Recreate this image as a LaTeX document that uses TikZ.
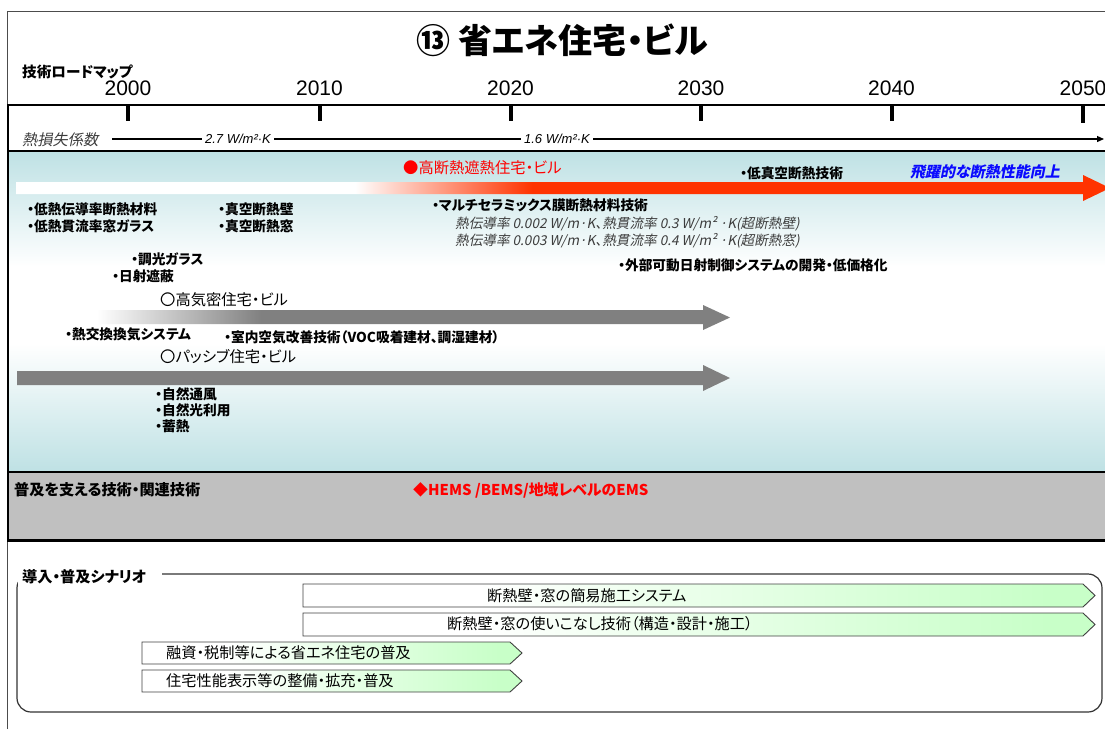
\documentclass[tikz,border=0pt]{standalone}
\usepackage{fontspec}
\newfontfamily\jp{Noto Sans CJK JP}[RawFeature=+palt]
\newfontfamily\jpit{Noto Sans CJK JP}[RawFeature=+palt,FakeSlant=0.2]
\newfontfamily\lat{Liberation Sans}
\usetikzlibrary{arrows.meta}
\definecolor{pblue}{RGB}{190,225,228}
\definecolor{pgrey}{RGB}{192,192,192}
\definecolor{agrey}{RGB}{128,128,128}
\definecolor{ared}{RGB}{255,51,0}
\definecolor{jred}{RGB}{255,0,0}
\definecolor{jblue}{RGB}{10,10,255}
\definecolor{pgreen}{RGB}{200,255,200}
\definecolor{itgrey}{RGB}{60,60,60}
\pgfdeclareverticalshading{bluefade}{100bp}{color(0bp)=(pblue); color(25bp)=(pblue); color(45bp)=(white); color(57bp)=(white); color(75bp)=(pblue); color(100bp)=(pblue)}
\pgfdeclarehorizontalshading{redfade}{100bp}{color(0bp)=(white); color(40.5bp)=(white); color(48.6bp)=(ared); color(100bp)=(ared)}
\pgfdeclarehorizontalshading{greyfade}{100bp}{color(0bp)=(white); color(25bp)=(white); color(38bp)=(agrey); color(100bp)=(agrey)}
\pgfdeclarehorizontalshading{greenfade}{100bp}{color(0bp)=(white); color(36bp)=(white); color(72bp)=(pgreen); color(100bp)=(pgreen)}
\tikzset{
  item/.style={font=\jp\bfseries\fontsize{13.7}{15}\selectfont, anchor=west, inner sep=0pt},
  olbl/.style={font=\jp\fontsize{15.3}{17}\selectfont, anchor=west, inner sep=0pt},
  itline/.style={font=\jpit\fontsize{13.6}{15}\selectfont, text=itgrey, anchor=west, inner sep=0pt},
  year/.style={font=\lat\fontsize{21}{24}\selectfont},
  coef/.style={font=\lat\itshape\fontsize{13}{15}\selectfont, inner sep=3pt},
  tick/.style={line width=4pt},
  scenbox/.style={shading=greenfade, draw=black!75, line width=0.9pt},
  stxt/.style={font=\jp\fontsize{15.2}{17}\selectfont, anchor=west, inner sep=0pt},
}
\begin{document}
\begin{tikzpicture}[x=1pt,y=-1pt]
\useasboundingbox (0,0) rectangle (1105,729);
% outer thin frame
\draw[black!70, line width=0.8pt] (7,729) -- (7,11) -- (1105,11);
% title
\node[font=\jp\bfseries\fontsize{34}{37}\selectfont] (title) at (562,40) {⑬ 省エネ住宅・ビル};
\node[font=\jp\bfseries\fontsize{14.6}{16}\selectfont, anchor=west, inner sep=0pt] (road) at (22,72) {技術ロードマップ};
% years
\foreach \yr/\xx in {2000/128,2010/319.5,2020/510.5,2030/701,2040/891.5,2050/1083}{
  \node[year] (y\yr) at (\xx,88) {\yr};
}
% blue and grey regions
\shade[shading=bluefade] (8,151) rectangle (1105,472);
\fill[pgrey] (8,472) rectangle (1105,540);
\draw[line width=2.2pt] (7,105) -- (1105,105);
\foreach \xx in {128,319.5,510.5,701,891.5}{
  \draw[tick] (\xx,105) -- (\xx,121);
}
\draw[tick] (1083,105) -- (1083,123);
\draw[line width=2pt] (8,151) -- (1105,151);
\draw[line width=2pt] (8,472) -- (1105,472);
\draw[line width=3pt] (8,540) -- (1105,540);
\draw[line width=2.5pt] (8,104) -- (8,541.5);
% heat loss row
\node[font=\jpit\fontsize{15.2}{17}\selectfont, text=itgrey, anchor=west, inner sep=0pt] (hl) at (22,140) {熱損失係数};
\node[coef] (v27) at (238,139) {2.7 W/m²·K};
\node[coef] (v16) at (557,139) {1.6 W/m²·K};
\coordinate (hs) at (112,139);
\coordinate (he) at (1104,139);
\draw[line width=1.2pt] (hs) -- (v27.west);
\draw[line width=1.2pt] (v27.east) -- (v16.west);
\draw[line width=1.2pt, -{Triangle[length=7pt,width=6pt]}] (v16.east) -- (he);
% red arrow
\shade[shading=redfade] (16,182) -- (1083,182) -- (1083,175) -- (1110,188) -- (1083,201) -- (1083,194) -- (16,194) -- cycle;
% grey arrows
\shade[shading=greyfade] (97,310) -- (703,310) -- (703,305) -- (730,317.5) -- (703,330) -- (703,324) -- (97,324) -- cycle;
\fill[agrey] (17,371) -- (703,371) -- (703,365) -- (730,378) -- (703,391) -- (703,385) -- (17,385) -- cycle;
% upper labels
\node[font=\jp\fontsize{15.3}{17}\selectfont, text=jred, anchor=west, inner sep=0pt] (hi) at (403,168) {●高断熱遮熱住宅・ビル};
\node[item] (lowvac) at (740,173) {・低真空断熱技術};
\node[font=\jpit\bfseries\fontsize{15}{17}\selectfont, text=jblue, anchor=west, inner sep=0pt] (leap) at (910,172) {飛躍的な断熱性能向上};
\node[item] (i1) at (27,209) {・低熱伝導率断熱材料};
\node[item] (i2) at (27,226) {・低熱貫流率窓ガラス};
\node[item] (i3) at (218,209) {・真空断熱壁};
\node[item] (i4) at (218,226) {・真空断熱窓};
\node[item] (i5) at (432,205) {・マルチセラミックス膜断熱材料技術};
\node[itline] (it1) at (455,224) {熱伝導率 0.002 W/m·K、熱貫流率 0.3 W/m² ·K(超断熱壁)};
\node[itline] (it2) at (455,241) {熱伝導率 0.003 W/m·K、熱貫流率 0.4 W/m² ·K(超断熱窓)};
\node[item] (i6) at (131,259) {・調光ガラス};
\node[item] (i7) at (112,276) {・日射遮蔽};
\node[item] (i8) at (618,265) {・外部可動日射制御システムの開発・低価格化};
\node[olbl] (o1) at (160,300) {〇高気密住宅・ビル};
\node[item] (i9) at (65,334) {・熱交換換気システム};
\node[item] (i10) at (224,337) {・室内空気改善技術（VOC吸着建材、調湿建材）};
\node[olbl] (o2) at (160,357) {〇パッシブ住宅・ビル};
\node[item] (i11) at (155,394) {・自然通風};
\node[item] (i12) at (155,410) {・自然光利用};
\node[item] (i13) at (155,426) {・蓄熱};
% grey band
\node[font=\jp\bfseries\fontsize{15.2}{17}\selectfont, anchor=west, inner sep=0pt] (sup) at (14,490) {普及を支える技術・関連技術};
\node[font=\jp\bfseries\fontsize{14.9}{17}\selectfont, text=jred, anchor=west, inner sep=0pt] (hems) at (413,490) {◆HEMS /BEMS/地域レベルのEMS};
% scenario
\draw[black!80, line width=1.2pt, rounded corners=14pt] (162,574) -- (1102,574) -- (1102,712) -- (17,712) -- (17,574) -- (34,574);
\node[font=\jp\bfseries\fontsize{15.2}{17}\selectfont, anchor=west, fill=white, inner xsep=4pt, inner ysep=2pt] (scen) at (18,577) {導入・普及シナリオ};
\shadedraw[scenbox] (303,584) -- (1083,584) -- (1095,595.5) -- (1083,607) -- (303,607) -- cycle;
\shadedraw[scenbox] (303,613) -- (1083,613) -- (1095,624.5) -- (1083,636) -- (303,636) -- cycle;
\shadedraw[scenbox] (142,642) -- (510,642) -- (522,653) -- (510,664) -- (142,664) -- cycle;
\shadedraw[scenbox] (142,670) -- (510,670) -- (522,681) -- (510,692) -- (142,692) -- cycle;
\node[stxt] (s1) at (487,596) {断熱壁・窓の簡易施工システム};
\node[stxt] (s2) at (447,624) {断熱壁・窓の使いこなし技術（構造・設計・施工）};
\node[stxt] (s3) at (166,653) {融資・税制等による省エネ住宅の普及};
\node[stxt] (s4) at (166,681) {住宅性能表示等の整備・拡充・普及};
\end{tikzpicture}
\end{document}
